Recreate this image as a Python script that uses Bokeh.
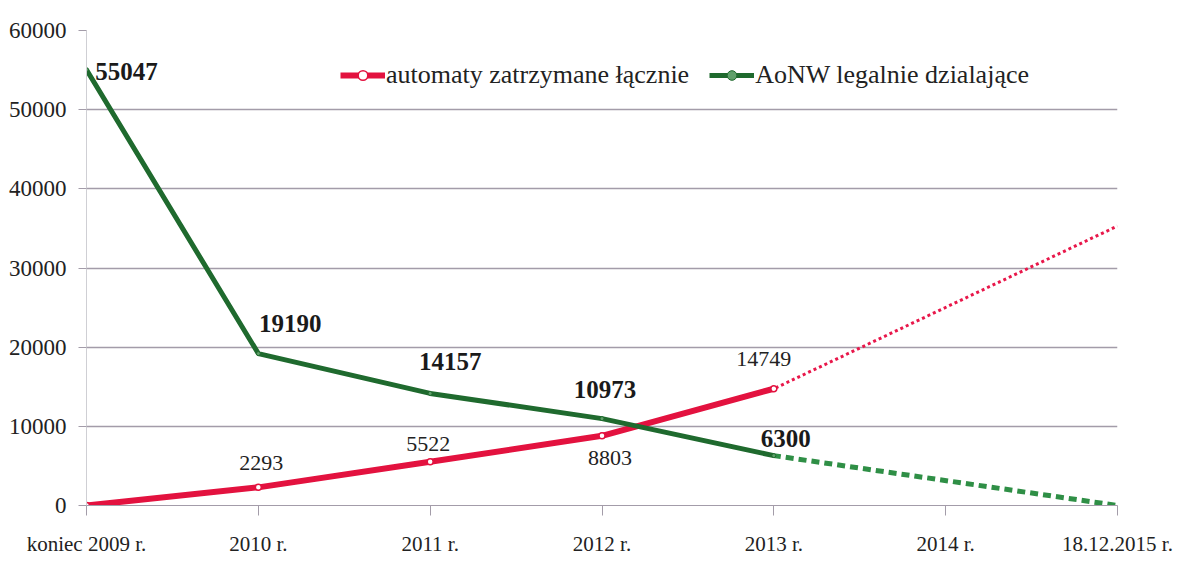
from bokeh.plotting import figure
from bokeh.models import Range1d, FixedTicker, Legend, LegendItem, ColumnDataSource
from bokeh.core.properties import value
from bokeh.embed import file_html
from bokeh.resources import INLINE

# ---- data ----
categories = ["koniec 2009 r.", "2010 r.", "2011 r.", "2012 r.", "2013 r.", "2014 r.", "18.12.2015 r."]
red_name = "automaty zatrzymane łącznie"
green_name = "AoNW legalnie dzialające"
red_idx = [0, 1, 2, 3, 4]
red_vals = [0, 2293, 5522, 8803, 14749]
red_fc_idx = [4, 6]
red_fc_vals = [14749, 35300]
green_idx = [0, 1, 2, 3, 4]
green_vals = [55047, 19190, 14157, 10973, 6300]
green_fc_idx = [4, 6]
green_fc_vals = [6300, 0]
y_ticks = [0, 10000, 20000, 30000, 40000, 50000, 60000]

# label placement (screen px offsets, style only)
green_dx = [40, 32, 20, 3, 12]
green_dy = [2, -30, -32, -29, -17]
red_dx = [0, 3, -2, 8, -10]
red_dy = [0, -24, -18, 22, -30]

FONT = "Liberation Serif"
RED = "#e3123f"
RED_FC = "#e8174a"
GREEN = "#1f6a2e"
GREEN_FC = "#2f8f46"
GRID = "#a39ca9"

W, H = 1175, 565
p = figure(width=W, height=H, output_backend="svg", toolbar_location=None,
           x_range=Range1d(0, 6), y_range=Range1d(0, 60000),
           min_border_left=86, min_border_right=W - 1117,
           min_border_top=30, min_border_bottom=H - 505)
p.outline_line_color = None
p.background_fill_color = "white"

# axes
p.xaxis.ticker = FixedTicker(ticks=list(range(len(categories))))
p.xaxis.major_label_overrides = {i: c for i, c in enumerate(categories)}
p.xaxis.major_label_text_font = FONT
p.xaxis.major_label_text_font_size = "21px"
p.xaxis.major_label_text_color = "#222222"
p.xaxis.major_tick_in = 0
p.xaxis.major_tick_out = 10
p.xaxis.minor_tick_line_color = None
p.xaxis.axis_line_color = GRID
p.xaxis.major_tick_line_color = GRID
p.xaxis.major_label_standoff = 16

p.yaxis.ticker = FixedTicker(ticks=y_ticks)
p.yaxis.major_label_text_font = FONT
p.yaxis.major_label_text_font_size = "23px"
p.yaxis.major_label_text_color = "#222222"
p.yaxis.major_tick_in = 0
p.yaxis.major_tick_out = 8
p.yaxis.minor_tick_line_color = None
p.yaxis.axis_line_color = "#cfcfd4"
p.yaxis.major_tick_line_color = GRID
p.yaxis.major_label_standoff = 12

p.xgrid.grid_line_color = None
p.ygrid.ticker = FixedTicker(ticks=y_ticks)
p.ygrid.grid_line_color = GRID
p.ygrid.grid_line_width = 1.5

# forecast lines
p.line(red_fc_idx, red_fc_vals, line_color=RED_FC, line_width=3, line_dash="3 3",
       line_dash_offset=-14)
p.line(green_fc_idx, green_fc_vals, line_color=GREEN_FC, line_width=5, line_dash="8 5",
       line_dash_offset=-12)

# actual lines
r_red = p.line(red_idx, red_vals, line_color=RED, line_width=6)
r_red_m = p.scatter(red_idx, red_vals, size=6, marker="circle", fill_color="white",
                    line_color=RED, line_width=1.5)
r_green = p.line(green_idx, green_vals, line_color=GREEN, line_width=5)
r_green_m = p.scatter(green_idx, green_vals, size=4, marker="circle", fill_color="#5fa06a",
                      line_color=GREEN, line_width=1)

# data labels
gsrc = ColumnDataSource(dict(x=green_idx, y=green_vals, t=[str(v) for v in green_vals],
                             dx=green_dx, dy=green_dy))
p.text(x="x", y="y", text="t", x_offset="dx", y_offset="dy", source=gsrc,
       text_font=value(FONT), text_font_size="25px", text_font_style="bold",
       text_color="#1a1a1a", text_align="center", text_baseline="middle")
rl_idx = red_idx[1:]
rl_vals = red_vals[1:]
rsrc = ColumnDataSource(dict(x=rl_idx, y=rl_vals, t=[str(v) for v in rl_vals],
                             dx=red_dx[1:], dy=red_dy[1:]))
p.text(x="x", y="y", text="t", x_offset="dx", y_offset="dy", source=rsrc,
       text_font=value(FONT), text_font_size="22px",
       text_color="#222222", text_align="center", text_baseline="middle")

legend = Legend(items=[LegendItem(label=red_name, renderers=[r_red, r_red_m]),
                       LegendItem(label=green_name, renderers=[r_green, r_green_m])],
                orientation="horizontal", location=(254, 415),
                label_text_font=FONT, label_text_font_size="26px",
                label_text_color="#222222",
                glyph_width=45, glyph_height=24, label_standoff=1, spacing=20,
                padding=0, margin=0, border_line_color=None,
                background_fill_alpha=0)
p.add_layout(legend)

open("out.html", "w").write(file_html(p, INLINE))
